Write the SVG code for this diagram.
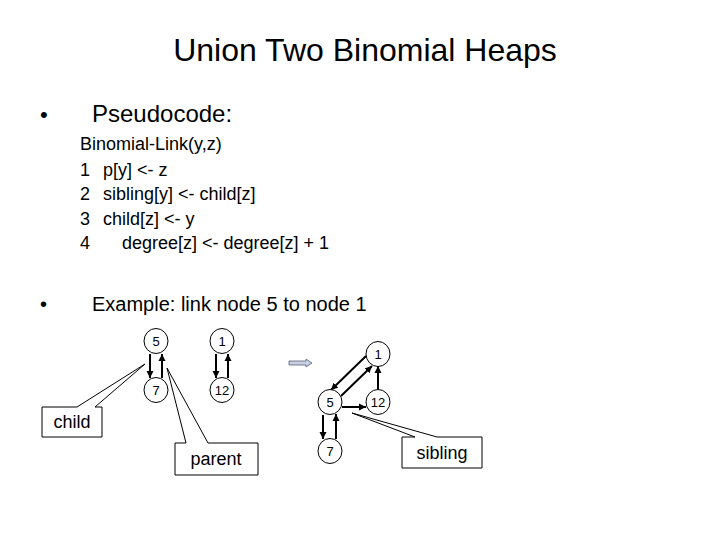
<svg xmlns="http://www.w3.org/2000/svg" width="720" height="540" viewBox="0 0 720 540">
<style>
text{font-family:"Liberation Sans",Arial,sans-serif;fill:#000}
.node ellipse{fill:#fff;stroke:#000;stroke-width:1}
.node text{font-size:13px;text-anchor:middle}
.edge{stroke:#000;stroke-width:2;fill:none;marker-end:url(#ah)}
.callout{fill:#fff;stroke:#000;stroke-width:1}
.ctext{font-size:18px;text-anchor:middle}
</style>
<defs>
<marker id="ah" markerUnits="userSpaceOnUse" markerWidth="8" markerHeight="8" refX="7" refY="4" orient="auto">
<path d="M0,0.5 L7,4 L0,7.5 Z" fill="#000"/>
</marker>
</defs>
<rect width="720" height="540" fill="#fff"/>
<text x="365" y="61" font-size="32" text-anchor="middle">Union Two Binomial Heaps</text>
<text x="40" y="122" font-size="22">•</text>
<text x="92" y="122" font-size="24">Pseudocode:</text>
<g font-size="18">
<text x="80" y="150">Binomial-Link(y,z)</text>
<text x="80" y="176">1</text><text x="103" y="176">p[y] &lt;- z</text>
<text x="80" y="200">2</text><text x="103" y="200">sibling[y] &lt;- child[z]</text>
<text x="80" y="225">3</text><text x="103" y="225">child[z] &lt;- y</text>
<text x="80" y="249">4</text><text x="122" y="249">degree[z] &lt;- degree[z] + 1</text>
</g>
<text x="40" y="311" font-size="20">•</text>
<text x="92" y="311" font-size="20">Example: link node 5 to node 1</text>

<g id="connectors">
<line class="edge" x1="150" y1="354" x2="150" y2="378"/>
<line class="edge" x1="162" y1="378" x2="162" y2="354"/>
<line class="edge" x1="216" y1="354" x2="216" y2="378"/>
<line class="edge" x1="228" y1="378" x2="228" y2="354"/>
<line class="edge" x1="366" y1="356" x2="331" y2="390"/>
<line class="edge" x1="341" y1="396" x2="372" y2="366"/>
<line class="edge" x1="378" y1="390" x2="378" y2="366"/>
<line class="edge" x1="342" y1="407" x2="366" y2="407"/>
<line class="edge" x1="323" y1="415" x2="323" y2="439"/>
<line class="edge" x1="336" y1="439" x2="336" y2="414"/>
</g>

<g id="nodeL5" class="node"><ellipse cx="156" cy="341" rx="12" ry="12.5"/><text x="156" y="345.5">5</text></g>
<g id="nodeL1" class="node"><ellipse cx="222" cy="341" rx="12" ry="12.5"/><text x="222" y="345.5">1</text></g>
<g id="nodeL7" class="node"><ellipse cx="156" cy="390" rx="12" ry="12.5"/><text x="156" y="394.5">7</text></g>
<g id="nodeL12" class="node"><ellipse cx="222" cy="390" rx="12" ry="12.5"/><text x="222" y="394.5">12</text></g>

<g id="nodeR1" class="node"><ellipse cx="378" cy="354" rx="12" ry="12.5"/><text x="378" y="358.5">1</text></g>
<g id="nodeR5" class="node"><ellipse cx="330" cy="402" rx="12" ry="12.5"/><text x="330" y="406.5">5</text></g>
<g id="nodeR12" class="node"><ellipse cx="378" cy="402" rx="12" ry="12.5"/><text x="378" y="406.5">12</text></g>
<g id="nodeR7" class="node"><ellipse cx="330" cy="451" rx="12" ry="12.5"/><text x="330" y="455.5">7</text></g>

<g id="implies">
<path d="M289,361 L306,361 L306,359 L312,363 L306,367 L306,365 L289,365 Z" fill="#c8cfe0" stroke="#55607a" stroke-width="0.8"/>
</g>

<g id="child">
<path class="callout" d="M42,407 L77,407 L145,364 L95,407 L102,407 L102,437 L42,437 Z"/>
<text class="ctext" x="72" y="428">child</text>
</g>
<g id="parent">
<path class="callout" d="M175,443 L186,443 L167,368 L208,443 L258,443 L258,475 L175,475 Z"/>
<text class="ctext" x="216" y="465">parent</text>
</g>
<g id="sibling">
<path class="callout" d="M402,437 L415,437 L352,413 L437,437 L482,437 L482,468 L402,468 Z"/>
<text class="ctext" x="442" y="459">sibling</text>
</g>
</svg>
